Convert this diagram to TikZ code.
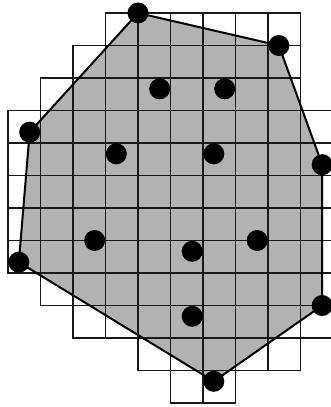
\documentclass[tikz,border=0pt]{standalone}
\begin{document}
\begin{tikzpicture}[x=32.5pt,y=32.5pt,
  gridcell/.style={draw=black!90,line width=1.05pt},
  hulledge/.style={draw=black,line width=2pt,line join=round},
  dot/.style={circle,fill=black,inner sep=0pt,minimum size=21pt}]
\useasboundingbox (-0.246,-0.123) rectangle (9.938,12.4);
\clip (-0.246,-0.123) rectangle (9.938,12.4);
% hull vertices
\coordinate (A) at (4,12);
\coordinate (B) at (8.333,11);
\coordinate (C) at (9.667,7.333);
\coordinate (D) at (9.667,3);
\coordinate (E) at (6.333,0.667);
\coordinate (F) at (0.333,4.333);
\coordinate (G) at (0.667,8.333);
\fill[black!30] (A) -- (B) -- (C) -- (D) -- (E) -- (F) -- (G) -- cycle;
% grid cells
\foreach \r/\a/\b in {0/3/8,1/2/8,2/1/8,3/0/9,4/0/9,5/0/9,6/0/9,7/0/9,8/1/9,9/2/9,10/4/8,11/5/6}{
  \foreach \c in {\a,...,\b}{
    \draw[gridcell] (\c,{11-\r}) rectangle ++(1,1);
  }
}
\draw[hulledge] (A) -- (B) -- (C) -- (D) -- (E) -- (F) -- (G) -- cycle;
% dots
\foreach \n in {A,B,C,D,E,F,G}{\node[dot] (d\n) at (\n) {};}
\node[dot] (p1) at (4.667,9.667) {};
\node[dot] (p2) at (6.667,9.667) {};
\node[dot] (p3) at (3.333,7.667) {};
\node[dot] (p4) at (6.333,7.667) {};
\node[dot] (p5) at (2.667,5) {};
\node[dot] (p6) at (5.667,4.667) {};
\node[dot] (p7) at (7.667,5) {};
\node[dot] (p8) at (5.667,2.667) {};
\end{tikzpicture}
\end{document}
